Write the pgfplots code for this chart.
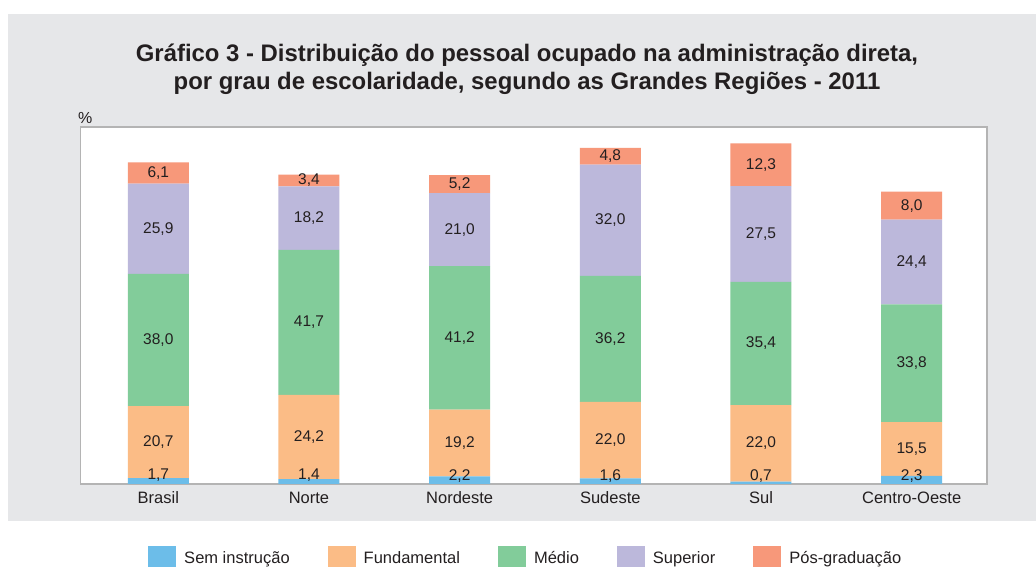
\documentclass[border=0pt]{standalone}
\usepackage{pgfplots}
\pgfplotsset{compat=1.18}
\usepackage{fontspec}
\setmainfont{Liberation Sans}
\definecolor{cSem}{HTML}{6CBDE9}
\definecolor{cFun}{HTML}{FBBC86}
\definecolor{cMed}{HTML}{82CC9A}
\definecolor{cSup}{HTML}{BCB8DB}
\definecolor{cPos}{HTML}{F7987A}
\definecolor{panel}{HTML}{E6E7E9}
\definecolor{axgray}{HTML}{B4B4B4}
\definecolor{txt}{HTML}{231F20}
\begin{document}
\begin{tikzpicture}[x=1pt,y=1pt]
\path[use as bounding box] (0,0) rectangle (1036,567);
\fill[panel] (8,46) rectangle (1036,553);
\node[anchor=base, font=\fontsize{23.9}{28}\selectfont\bfseries, text=txt, inner sep=0] at (527,505.3) {Gráfico 3 - Distribuição do pessoal ocupado na administração direta,};
\node[anchor=base, font=\fontsize{23.9}{28}\selectfont\bfseries, text=txt, inner sep=0] at (527,477) {por grau de escolaridade, segundo as Grandes Regiões - 2011};
\node[anchor=base west, font=\fontsize{16}{19}\selectfont, text=txt, inner sep=0] at (78,443) {\%};
\begin{axis}[
  at={(80.7pt,83pt)}, anchor=south west,
  scale only axis, width=906.3pt, height=357pt,
  xmin=-0.515, xmax=5.5, ymin=0, ymax=102.6,
  ybar stacked, bar width=61pt,
  axis line style={draw=axgray, line width=1.3pt},
  axis background/.style={fill=white},
  ytick=\empty, xtick={0,1,2,3,4,5},
  xticklabels={Brasil,Norte,Nordeste,Sudeste,Sul,Centro-Oeste},
  major tick length=0pt,
  xticklabel style={font=\fontsize{16.5}{19}\selectfont, text=txt, anchor=base, yshift=-19.3pt},
  legend columns=5,
  legend style={draw=none, fill=none, at={(0.071,-0.205)}, anchor=west,
    font=\fontsize{16.5}{19}\selectfont, text=txt,
    /tikz/every odd column/.append style={column sep=6pt},
    /tikz/every even column/.append style={column sep=36pt}},
  legend image code/.code={\fill[#1] (0pt,-10pt) rectangle (28pt,12pt);},
]
\addplot[fill=cSem, draw=none] coordinates {(0,1.7) (1,1.4) (2,2.2) (3,1.6) (4,0.7) (5,2.3)};
\addlegendentry{Sem instrução}
\addplot[fill=cFun, draw=none] coordinates {(0,20.7) (1,24.2) (2,19.2) (3,22.0) (4,22.0) (5,15.5)};
\addlegendentry{Fundamental}
\addplot[fill=cMed, draw=none] coordinates {(0,38.0) (1,41.7) (2,41.2) (3,36.2) (4,35.4) (5,33.8)};
\addlegendentry{Médio}
\addplot[fill=cSup, draw=none] coordinates {(0,25.9) (1,18.2) (2,21.0) (3,32.0) (4,27.5) (5,24.4)};
\addlegendentry{Superior}
\addplot[fill=cPos, draw=none] coordinates {(0,6.1) (1,3.4) (2,5.2) (3,4.8) (4,12.3) (5,8.0)};
\addlegendentry{Pós-graduação}
\end{axis}
\begin{axis}[
  at={(80.7pt,83pt)}, anchor=south west,
  scale only axis, width=906.3pt, height=357pt,
  xmin=-0.515, xmax=5.5, ymin=0, ymax=102.6,
  hide axis, clip=false,
]
\addplot[only marks, mark=*, mark size=0pt, mark options={draw=none, fill=none},
  nodes near coords, point meta=explicit symbolic,
  nodes near coords style={anchor=center, font=\fontsize{15.5}{18}\selectfont, text=txt, inner sep=0pt}]
  table[x=x, y=y, meta=lab] {
x y lab
0 2.4 1,7
1 2.4 1,4
2 2.4 2,2
3 2.4 1,6
4 2.4 0,7
5 2.4 2,3
0 12.05 20,7
1 13.5 24,2
2 11.8 19,2
3 12.6 22,0
4 11.7 22,0
5 10.05 15,5
0 41.4 38,0
1 46.45 41,7
2 42.0 41,2
3 41.7 36,2
4 40.4 35,4
5 34.7 33,8
0 73.35 25,9
1 76.4 18,2
2 73.1 21,0
3 75.8 32,0
4 71.85 27,5
5 63.8 24,4
0 89.35 6,1
1 87.2 3,4
2 86.2 5,2
3 94.2 4,8
4 91.75 12,3
5 80.0 8,0
};
\end{axis}
\end{tikzpicture}
\end{document}
